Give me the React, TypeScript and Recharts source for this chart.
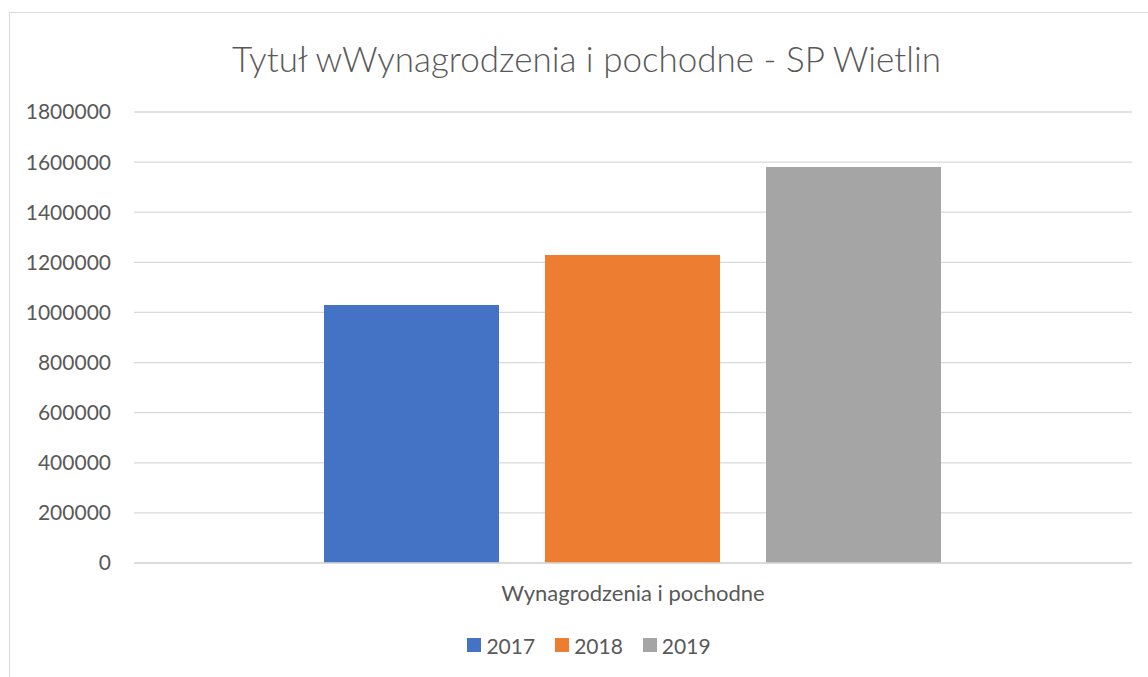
import { BarChart, Bar, XAxis, YAxis, CartesianGrid, Legend } from "recharts"

const categories = ["Wynagrodzenia i pochodne"]
const years = ["2017", "2018", "2019"]
const values2017 = [1030000]
const values2018 = [1229000]
const values2019 = [1580000]
const yTicks = [0, 200000, 400000, 600000, 800000, 1000000, 1200000, 1400000, 1600000, 1800000]
const colors = ["#4472c4", "#ed7d31", "#a5a5a5"]

const series = [values2017, values2018, values2019]
const data = categories.map((name, i) => {
  const row: Record<string, string | number> = { name }
  years.forEach((y, j) => {
    row[y] = series[j][i]
  })
  return row
})

const font = "Lato, 'Open Sans', sans-serif"
const textColor = "#595959"

function LegendContent(props: any) {
  const items = props.payload || []
  return (
    <div style={{ display: "flex", justifyContent: "center", alignItems: "center", gap: 20, height: 40, fontFamily: font }}>
      {items.map((it: any) => (
        <div key={it.value} style={{ display: "flex", alignItems: "center" }}>
          <div style={{ width: 14, height: 14, background: it.color, marginRight: 5 }} />
          <span style={{ fontSize: 21, color: textColor }}>{it.value}</span>
        </div>
      ))}
    </div>
  )
}

export default function App() {
  return (
    <div style={{ position: "absolute", left: 0, top: 0, width: 1148, height: 677, background: "#fff", overflow: "hidden" }}>
      <div style={{ position: "absolute", left: 9, top: 12, width: 1139, height: 665, borderLeft: "1px solid #d9d9d9", borderTop: "1px solid #d9d9d9" }} />
      <div
        style={{
          position: "absolute",
          left: 0,
          width: 1173,
          top: 36,
          textAlign: "center",
          fontFamily: font,
          fontWeight: 300,
          fontSize: 35,
          color: textColor,
          lineHeight: "44px",
          whiteSpace: "nowrap",
        }}
      >
        Tytuł wWynagrodzenia i pochodne - SP Wietlin
      </div>
      <BarChart
        width={1148}
        height={677}
        data={data}
        margin={{ top: 112, right: 16, left: 0, bottom: 34 }}
        barCategoryGap={190}
        barGap={46}
        style={{ position: "absolute", left: 0, top: 0 }}
      >
        <CartesianGrid vertical={false} stroke="#d9d9d9" strokeWidth={1.3} />
        <XAxis
          dataKey="name"
          height={40}
          tickLine={false}
          tickSize={0}
          tickMargin={22}
          axisLine={{ stroke: "#d9d9d9", strokeWidth: 1.3 }}
          tick={{ fontSize: 22, fill: textColor, fontFamily: font }}
        />
        <YAxis
          width={134}
          domain={[0, 1800000]}
          ticks={yTicks}
          interval={0}
          tickLine={false}
          axisLine={false}
          tickSize={0}
          tickMargin={23}
          tick={{ fontSize: 21, fill: textColor, fontFamily: font }}
        />
        <Legend
          verticalAlign="bottom"
          content={<LegendContent />}
          wrapperStyle={{ height: 40, bottom: 12, left: 30, width: 1118 }}
        />
        {years.map((y, j) => (
          <Bar key={y} dataKey={y} name={y} fill={colors[j]} isAnimationActive={false} />
        ))}
      </BarChart>
    </div>
  )
}
